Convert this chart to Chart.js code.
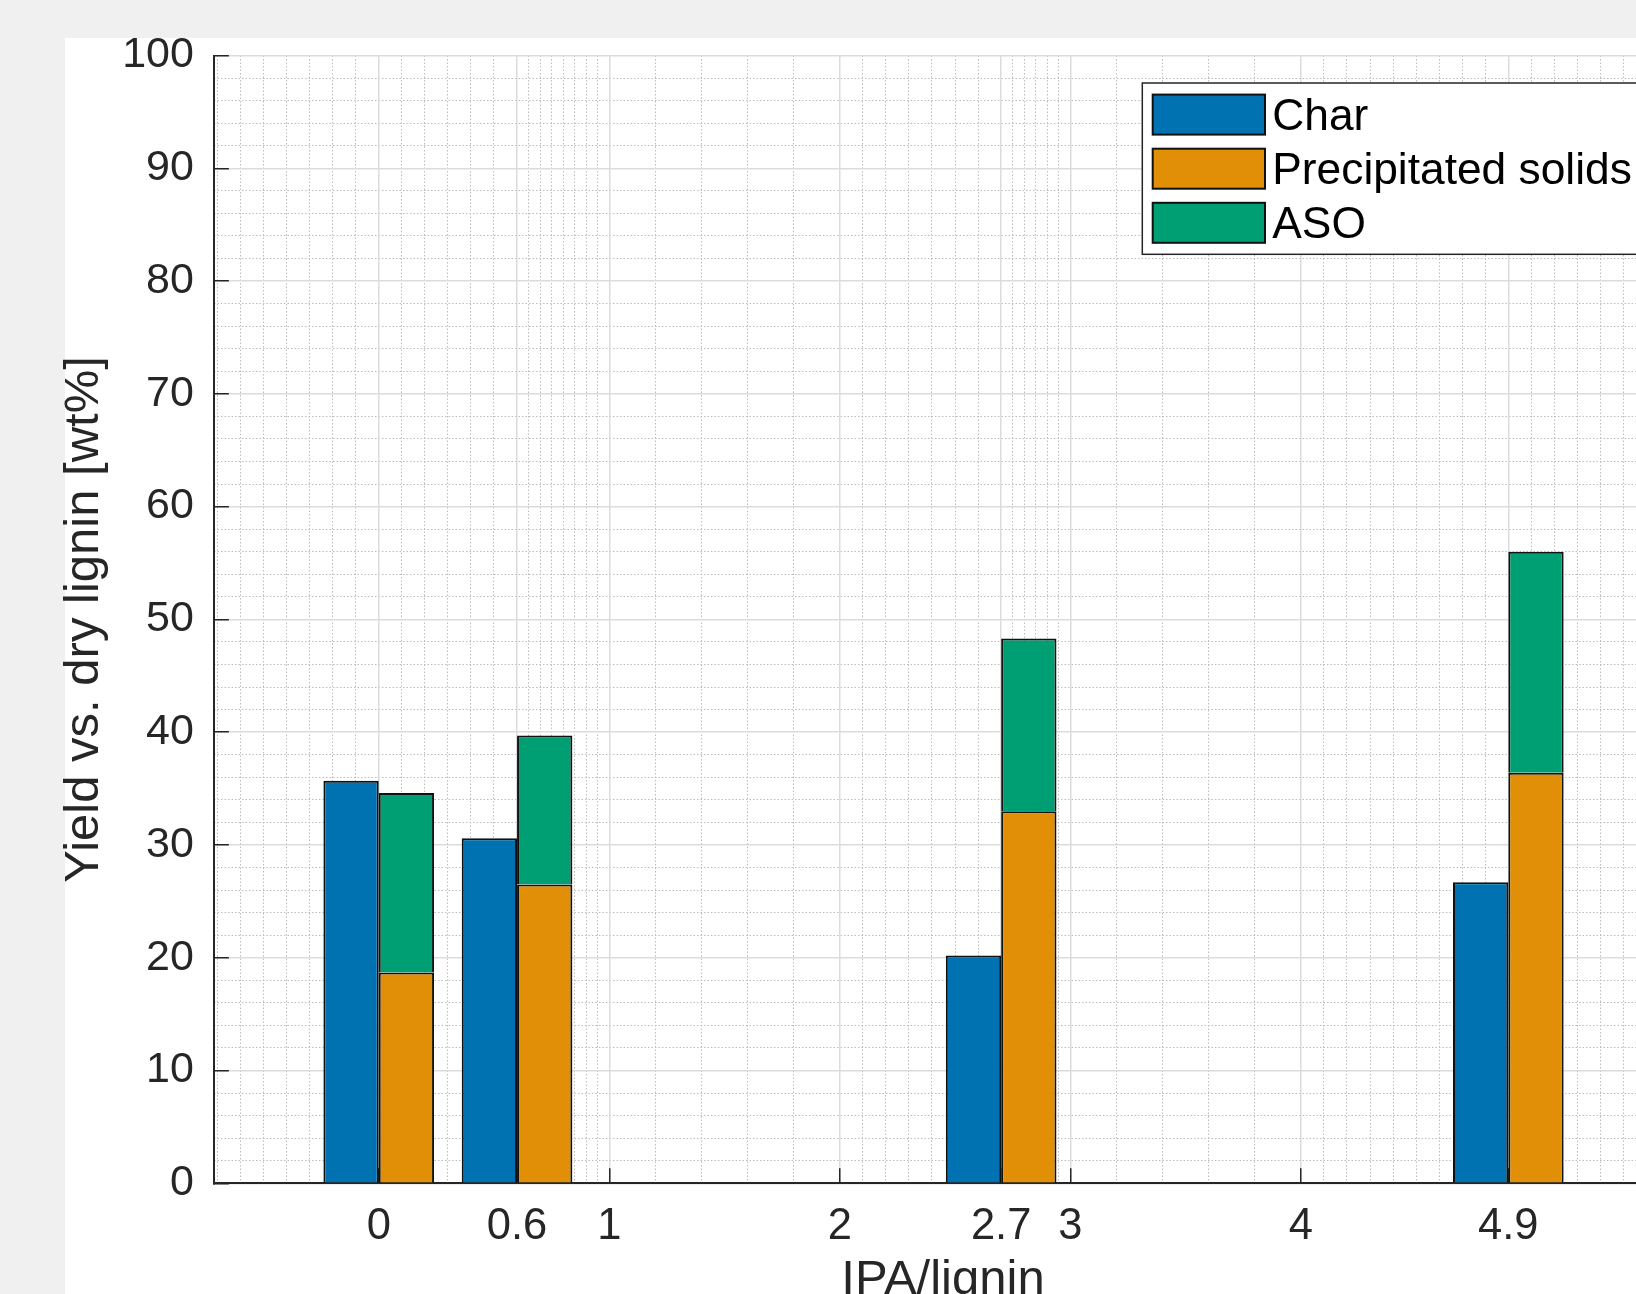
<!DOCTYPE html>
<html>
<head>
<meta charset="utf-8">
<title>Yield vs. dry lignin</title>
<script src="https://cdn.jsdelivr.net/npm/chart.js@4.4.0/dist/chart.umd.min.js"></script>
<style>
  html, body { margin: 0; padding: 0; overflow: hidden; background: #f0f0f0; }
  #figure { position: absolute; left: 65px; top: 38px; width: 1800px; height: 1400px; background: #ffffff; }
  #myBarChart { position: absolute; left: 0; top: 0; }
</style>
</head>
<body>
<div id="figure"></div>
<canvas id="myBarChart" width="1760" height="1360"></canvas>
<script>
// donnees
const ipaRatio = [0, 0.6, 2.7, 4.9];
const charYield = [35.7, 30.6, 20.2, 26.7];
const solidsYield = [18.7, 26.5, 33.0, 36.4];
const asoYield = [15.9, 13.2, 15.3, 19.6];

// graduations
const xTicks = [0, 0.6, 1, 2, 2.7, 3, 4, 4.9];
const xTickLabels = ['0', '0.6', '1', '2', '2.7', '3', '4', '4.9'];
// grille secondaire : [debut, fin, pas]
const xMinorSteps = [[-0.7, 0, 0.1], [0, 0.6, 0.1], [0.6, 1, 0.05], [1, 2, 0.2],
                     [2, 2.7, 0.1], [2.7, 3, 0.05], [3, 4, 0.2], [4, 4.9, 0.1], [4.9, 5.6, 0.1]];

const fontFamily = "'Liberation Sans', Arial, Helvetica, sans-serif";
const axisColor = '#262626';

function buildMinor(steps, majors) {
    const out = [];
    steps.forEach(([a, b, s]) => {
        const n = Math.round((b - a) / s);
        for (let k = 0; k <= n; k++) {
            const v = Math.round((a + k * s) * 1000) / 1000;
            if (!majors.includes(v) && !out.includes(v)) out.push(v);
        }
    });
    return out;
}
const xMinorTicks = buildMinor(xMinorSteps, xTicks);
const yMinorTicks = [];
for (let v = 0; v <= 100; v += 2) {
    if (v % 10 !== 0) yMinorTicks.push(v);
}

function points(values) {
    return values.map((y, i) => ({ x: ipaRatio[i], y: y }));
}

// legende encadree (style matlab)
const boxLegend = {
    id: 'boxLegend',
    afterDraw(chart) {
        const ctx = chart.ctx;
        const area = chart.chartArea;
        const left = area.right - 529.7;
        const top = area.top + 27.5;
        const rowH = 54.1;
        const textX = left + 130;
        ctx.save();
        ctx.font = '44.3px ' + fontFamily;
        let maxW = 0;
        chart.data.datasets.forEach((ds) => {
            maxW = Math.max(maxW, ctx.measureText(ds.label).width);
        });
        const width = textX + maxW + 11 - left;
        const height = 171.3;
        ctx.fillStyle = '#ffffff';
        ctx.fillRect(left, top, width, height);
        ctx.lineWidth = 1.5;
        ctx.strokeStyle = axisColor;
        ctx.strokeRect(left, top, width, height);
        chart.data.datasets.forEach((ds, i) => {
            const cy = top + 31.6 + i * rowH;
            ctx.fillStyle = ds.backgroundColor;
            ctx.fillRect(left + 10.4, cy - 20, 112.3, 40);
            ctx.lineWidth = 2;
            ctx.strokeStyle = '#111111';
            ctx.strokeRect(left + 10.4, cy - 20, 112.3, 40);
            ctx.fillStyle = '#000000';
            ctx.textBaseline = 'alphabetic';
            ctx.textAlign = 'left';
            ctx.fillText(ds.label, textX, cy + 15.5);
        });
        ctx.restore();
    }
};

const config = {
    type: 'bar',
    data: {
        datasets: [
            { label: 'Char', data: points(charYield), backgroundColor: '#0072B2', stack: 'char' },
            { label: 'Precipitated solids', data: points(solidsYield), backgroundColor: '#E08F06', stack: 'solids' },
            { label: 'ASO', data: points(asoYield), backgroundColor: '#009E73', stack: 'solids' }
        ]
    },
    options: {
        responsive: false,
        animation: false,
        layout: { padding: { left: 0, top: 55.5, right: 88, bottom: 0 } },
        datasets: {
            bar: {
                borderColor: '#111111',
                borderWidth: 2,
                // le pas mini vu par chart.js est 0.3 (2.7 -> 3), groupe = 0.48
                categoryPercentage: 1.6,
                barPercentage: 1
            }
        },
        plugins: {
            legend: { display: false },
            tooltip: { enabled: false }
        },
        scales: {
            x: {
                type: 'linear',
                position: 'bottom',
                min: -0.715,
                max: 5.61,
                offset: false,
                afterBuildTicks: (scale) => { scale.ticks = xTicks.map((v) => ({ value: v })); },
                afterFit: (scale) => { scale.height = 176.7; },
                ticks: {
                    callback: (value, index) => xTickLabels[index],
                    font: { family: fontFamily, size: 43.5 },
                    color: axisColor,
                    padding: 32.5,
                    maxRotation: 0,
                    autoSkip: false
                },
                grid: {
                    offset: false,
                    color: '#dcdcdc',
                    lineWidth: 1.5,
                    tickLength: -15,
                    tickColor: axisColor,
                    tickWidth: 1.5
                },
                border: { color: axisColor, width: 2 },
                title: {
                    display: true,
                    text: 'IPA/lignin',
                    font: { family: fontFamily, size: 49 },
                    color: axisColor,
                    padding: { top: 0, bottom: 50.5 }
                }
            },
            xMinor: {
                type: 'linear',
                axis: 'x',
                position: 'bottom',
                min: -0.715,
                max: 5.61,
                offset: false,
                afterBuildTicks: (scale) => { scale.ticks = xMinorTicks.map((v) => ({ value: v })); },
                afterFit: (scale) => { scale.height = 0; },
                ticks: { display: false },
                grid: { offset: false, color: '#bdbdbd', lineWidth: 1, drawTicks: false, z: -2 },
                border: { display: false, dash: [1.5, 2] }
            },
            y: {
                type: 'linear',
                position: 'left',
                min: 0,
                max: 100,
                stacked: true,
                afterFit: (scale) => {
                    scale.width = 213.9;
                    // pas de marge auto en haut/bas pour les etiquettes
                    scale.paddingTop = 0;
                    scale.paddingBottom = 0;
                },
                ticks: {
                    stepSize: 10,
                    font: { family: fontFamily, size: 43 },
                    color: axisColor,
                    padding: 35
                },
                grid: {
                    color: '#dcdcdc',
                    lineWidth: 1.5,
                    tickLength: -15,
                    tickColor: axisColor,
                    tickWidth: 1.5
                },
                border: { color: axisColor, width: 2 },
                title: {
                    display: true,
                    text: 'Yield vs. dry lignin [wt%]',
                    font: { family: fontFamily, size: 49 },
                    color: axisColor,
                    padding: { top: 55, bottom: 0 }
                }
            },
            yMinor: {
                type: 'linear',
                axis: 'y',
                position: 'left',
                min: 0,
                max: 100,
                afterBuildTicks: (scale) => { scale.ticks = yMinorTicks.map((v) => ({ value: v })); },
                afterFit: (scale) => { scale.width = 0; },
                ticks: { display: false },
                grid: { color: '#bdbdbd', lineWidth: 1, drawTicks: false, z: -2 },
                border: { display: false, dash: [1.5, 2] }
            }
        }
    },
    plugins: [boxLegend]
};

const ctx = document.getElementById('myBarChart').getContext('2d');
const myBarChart = new Chart(ctx, config);
</script>
</body>
</html>
